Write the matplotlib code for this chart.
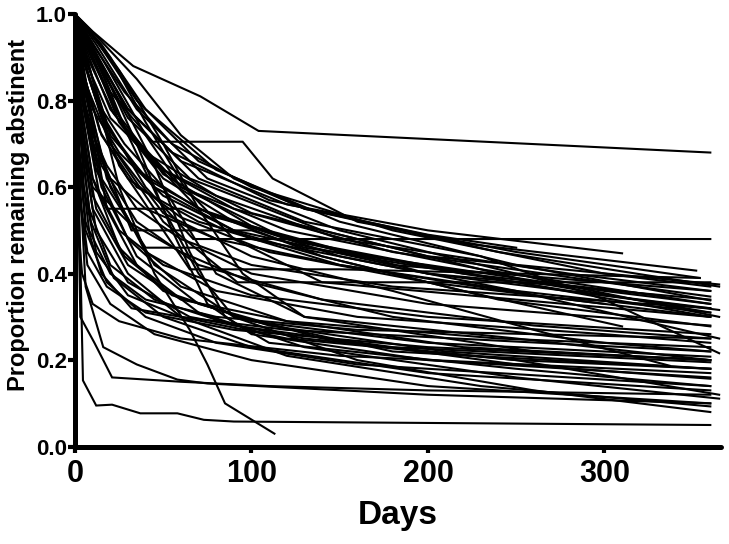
import numpy as np
import matplotlib
matplotlib.use("Agg")
import matplotlib.pyplot as plt

plt.rcParams['font.family'] = ['Liberation Sans', 'DejaVu Sans']
plt.rcParams['font.weight'] = 'bold'

# survival curves: (days, proportion remaining abstinent)
curves = [
    ([0, 10, 33, 71, 104, 360], [1, .96, .88, .81, .73, .68]),
    ([0, 8, 20, 44, 95, 112, 160, 250, 354], [1, .93, .82, .705, .705, .62, .52, .45, .39]),
    ([0, 6, 18, 40, 67, 360], [1, .9, .75, .6, .48, .48]),
    ([0, 10, 30, 60, 120, 200, 310], [1, .92, .78, .66, .56, .5, .447]),
    ([0, 8, 25, 55, 110, 220, 352], [1, .93, .8, .68, .57, .47, .407]),
    ([0, 5, 20, 50, 100, 200, 365], [1, .9, .76, .64, .54, .44, .375]),
    ([0, 12, 35, 70, 130, 240, 365], [1, .94, .8, .66, .55, .45, .37]),
    ([0, 7, 22, 45, 90, 180, 300, 360], [1, .9, .77, .65, .55, .45, .38, .347]),
    ([0, 15, 40, 80, 150, 250, 360], [1, .93, .78, .64, .52, .42, .338]),
    ([0, 9, 28, 60, 120, 230, 360], [1, .9, .74, .6, .5, .41, .33]),
    ([0, 6, 18, 40, 80, 160, 280, 360], [1, .88, .74, .62, .53, .44, .36, .32]),
    ([0, 10, 30, 65, 140, 260, 360], [1, .91, .76, .62, .5, .38, .31]),
    ([0, 8, 24, 50, 100, 200, 365], [1, .92, .77, .63, .51, .4, .316]),
    ([0, 12, 35, 75, 150, 270, 365], [1, .93, .78, .62, .5, .38, .30]),
    ([0, 5, 15, 35, 70, 140, 240, 360], [1, .86, .72, .6, .52, .44, .34, .278]),
    ([0, 10, 25, 50, 90, 150, 250, 365], [1, .9, .75, .62, .52, .44, .36, .25]),
    ([0, 8, 30, 70, 130, 230, 300, 365], [1, .93, .78, .62, .52, .44, .34, .216]),
    ([0, 4, 12, 32, 100, 130, 200, 300, 360], [1, .85, .7, .5, .5, .46, .42, .36, .33]),
    ([0, 5, 20, 50, 92, 360], [1, .85, .7, .52, .38, .38]),
    ([0, 8, 25, 65, 150, 354], [1, .85, .65, .41, .41, .39]),
    ([0, 10, 30, 70, 140, 220, 310], [1, .9, .72, .55, .44, .36, .278]),
    ([0, 6, 20, 50, 100, 180, 260, 337], [1, .88, .7, .54, .44, .36, .27, .187]),
    ([0, 3, 10, 25, 50, 100, 200, 360], [1, .8, .62, .46, .36, .29, .24, .208]),
    ([0, 4, 12, 30, 60, 120, 220, 360], [1, .82, .64, .48, .37, .29, .23, .20]),
    ([0, 2, 8, 20, 45, 90, 180, 360], [1, .75, .55, .42, .34, .28, .23, .195]),
    ([0, 3, 10, 28, 55, 110, 210, 360], [1, .78, .58, .44, .35, .28, .22, .18]),
    ([0, 5, 15, 35, 70, 140, 250, 360], [1, .8, .6, .44, .33, .25, .19, .157]),
    ([0, 2, 6, 18, 40, 80, 160, 360], [1, .7, .5, .38, .3, .24, .19, .14]),
    ([0, 3, 9, 22, 50, 100, 200, 360], [1, .72, .52, .39, .3, .23, .17, .13]),
    ([0, 4, 14, 35, 70, 130, 250, 365], [1, .8, .58, .42, .31, .23, .16, .111]),
    ([0, 2, 7, 20, 45, 100, 200, 360], [1, .6, .42, .33, .26, .2, .14, .10]),
    ([0, 3, 10, 30, 60, 120, 230, 360], [1, .75, .55, .4, .3, .21, .14, .093]),
    ([0, 6, 20, 45, 90, 160, 260, 360], [1, .82, .6, .42, .3, .2, .13, .08]),
    ([0, 4.5, 12, 21, 37, 58, 73, 90, 360], [1, .153, .095, .097, .077, .077, .062, .058, .05]),
    ([0, 3, 11, 21, 60, 110, 200, 360], [1, .3, .24, .16, .15, .14, .13, .12]),
    ([0, 3, 6, 16, 35, 58, 75, 200, 360], [1, .6, .37, .23, .19, .155, .146, .12, .10]),
    ([0, 10, 25, 45, 65, 75, 85, 113], [1, .85, .6, .4, .27, .19, .1, .03]),
    ([0, 15, 35, 55, 75, 100, 200, 360], [1, .88, .7, .5, .33, .26, .2, .16]),
    ([0, 20, 45, 65, 85, 110, 250, 360], [1, .85, .65, .45, .3, .24, .18, .14]),
    ([0, 12, 30, 50, 70, 90, 180, 360], [1, .9, .72, .55, .4, .3, .22, .18]),
    ([0, 25, 50, 70, 95, 130, 260, 360], [1, .87, .7, .55, .4, .3, .22, .2]),
    ([0, 3, 10, 25, 50, 100, 200, 360], [1, .8, .62, .5, .42, .35, .3, .26]),
    ([0, 4, 15, 35, 70, 140, 260, 360], [1, .82, .65, .52, .42, .34, .28, .25]),
    ([0, 2, 8, 20, 40, 80, 160, 360], [1, .7, .5, .4, .34, .3, .27, .25]),
    ([0, 5, 18, 40, 80, 160, 300, 360], [1, .85, .62, .45, .36, .3, .26, .24]),
    ([0, 3, 12, 30, 60, 120, 240, 360], [1, .75, .55, .42, .34, .29, .25, .23]),
    ([0, 2, 6, 15, 32, 60, 120, 360], [1, .7, .52, .4, .32, .3, .27, .22]),
    ([0, 8, 20, 40, 80, 150, 280, 360], [1, .9, .78, .68, .58, .48, .4, .36]),
    ([0, 10, 28, 55, 100, 180, 300, 360], [1, .93, .82, .7, .6, .5, .4, .37]),
    ([0, 6, 15, 35, 70, 130, 220, 330], [1, .88, .76, .64, .55, .47, .4, .35]),
    ([0, 5, 14, 30, 60, 110, 200, 300], [1, .86, .73, .62, .53, .45, .38, .33]),
    ([0, 4, 10, 25, 50, 100, 200, 360], [1, .88, .78, .68, .58, .48, .4, .34]),
    ([0, 12, 35, 60, 90, 130, 200, 250], [1, .95, .85, .72, .62, .55, .49, .46]),
    ([0, 3, 8, 20, 40, 80, 150, 250, 360], [1, .82, .72, .62, .55, .48, .42, .36, .31]),
    ([0, 10, 20, 45, 90, 180, 360], [1, .85, .72, .6, .5, .42, .36]),
    ([0, 7, 18, 35, 60, 100, 180, 360], [1, .75, .65, .55, .48, .42, .37, .32]),
    ([0, 2, 5, 12, 30, 60, 120, 250, 360], [1, .8, .6, .45, .35, .3, .25, .2, .18]),
    ([0, 1, 4, 10, 25, 60, 150, 360], [1, .55, .4, .33, .29, .25, .21, .17]),
    ([0, 2, 7, 18, 40, 90, 200, 360], [1, .6, .45, .37, .31, .27, .23, .2]),
    ([0, 4, 12, 30, 65, 130, 250, 365], [1, .7, .5, .38, .3, .25, .2, .12]),
    ([0, 6, 18, 60, 85, 150, 260, 360], [1, .85, .55, .55, .5, .42, .35, .3]),
    ([0, 5, 15, 40, 70, 100, 200, 360], [1, .8, .62, .46, .46, .4, .33, .28]),
    ([0, 15, 40, 60, 120, 250, 360], [1, .9, .72, .6, .48, .38, .3]),
    ([0, 4, 12, 28, 50, 80, 130, 250, 360], [1, .9, .8, .7, .6, .4, .3, .25, .2]),
    ([0, 20, 40, 62, 90, 140, 360], [1, .9, .75, .6, .48, .38, .3]),
    ([0, 2, 10, 30, 60, 100, 180, 300, 360], [1, .75, .6, .52, .45, .38, .3, .24, .22]),
]

x_ticks = [0, 100, 200, 300]
y_ticks = [0.0, 0.2, 0.4, 0.6, 0.8, 1.0]

fig = plt.figure(figsize=(7.29, 5.44), dpi=100)
ax = fig.add_axes([0.1029, 0.179, 0.886, 0.795])

for days, prop in curves:
    ax.plot(days, prop, color='black', linewidth=1.5, clip_on=False,
            solid_joinstyle='miter')

ax.set_xlim(0, 366)
ax.set_ylim(0, 1.0)
ax.spines['top'].set_visible(False)
ax.spines['right'].set_visible(False)
for side in ['left', 'bottom']:
    ax.spines[side].set_linewidth(3.6)
    ax.spines[side].set_capstyle('round')

ax.set_xticks(x_ticks)
ax.set_yticks(y_ticks)
ax.set_xticklabels([str(t) for t in x_ticks], fontsize=22, fontweight='bold')
ax.set_yticklabels(['%.1f' % t for t in y_ticks], fontsize=16, fontweight='bold')
ax.tick_params(axis='x', length=4, width=3, pad=5)
ax.tick_params(axis='y', length=5, width=3, pad=1)

ax.set_xlabel('Days', fontsize=24, fontweight='bold', labelpad=8)
ax.set_ylabel('Proportion remaining abstinent', fontsize=17, fontweight='bold')
ax.yaxis.set_label_coords(-0.07, 0.535)

fig.savefig('out.png', dpi=100)
